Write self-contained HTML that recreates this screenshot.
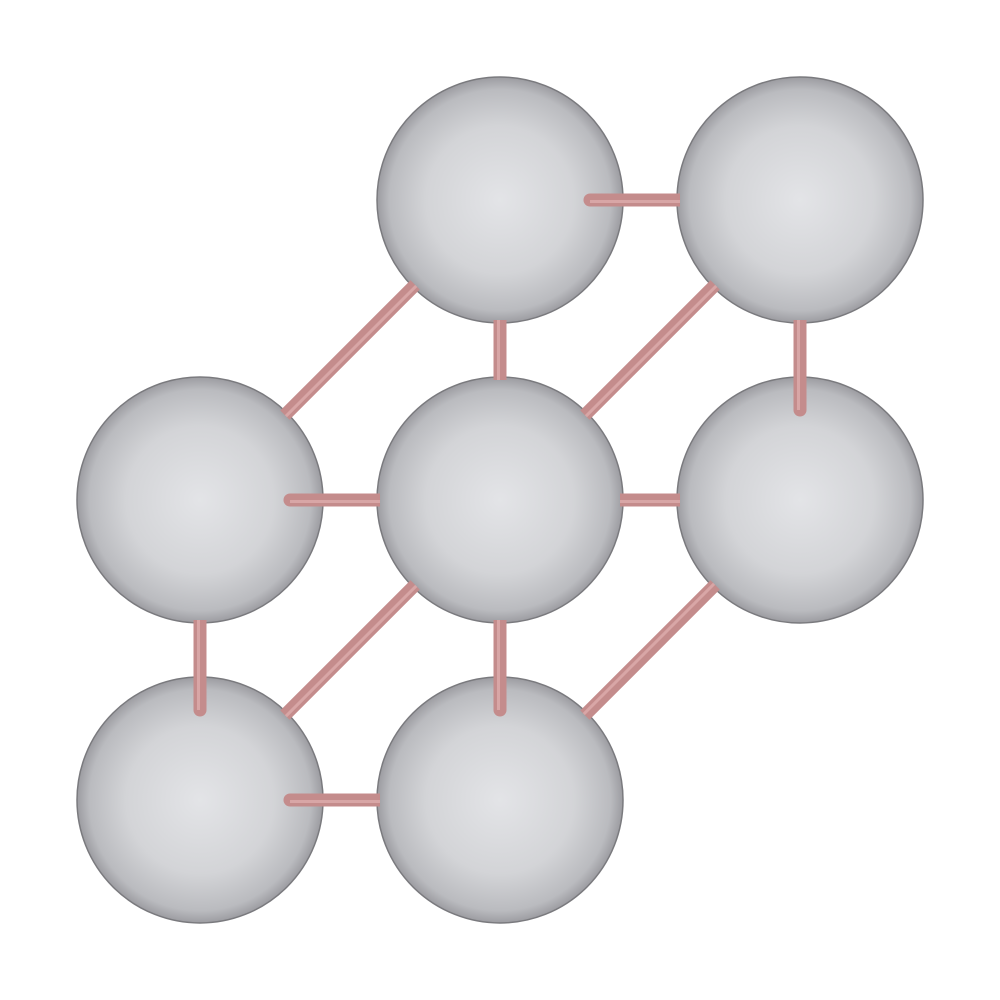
<!DOCTYPE html>
<html>
<head>
<meta charset="utf-8">
<style>
html,body{margin:0;padding:0;background:#fff;width:1000px;height:1000px;overflow:hidden;}
svg{display:block;}
</style>
</head>
<body>
<svg id="mol" width="1000" height="1000" viewBox="0 0 1000 1000" xmlns="http://www.w3.org/2000/svg">
<defs>
<radialGradient id="sph" cx="50%" cy="50%" r="50%">
<stop offset="0" stop-color="#e3e4e7"/>
<stop offset="0.6" stop-color="#d3d4d7"/>
<stop offset="0.9" stop-color="#babbbf"/>
<stop offset="1" stop-color="#9c9ca1"/>
</radialGradient>
</defs>
</svg>
<script>
// atom centres (grid positions)
const atomX = [1, 2, 0, 1, 2, 0, 1];
const atomY = [0, 0, 1, 1, 1, 2, 2];
// bonds: pairs of atom indices, and which end is in front ('a','b','')
const bondA = [0, 0, 1, 2, 3, 2, 3, 4, 2, 3, 5, 5];
const bondB = [1, 3, 4, 0, 1, 3, 4, 6, 5, 6, 6, 3];
const bondFront = ['a', '', 'b', '', '', 'a', '', '', 'b', 'b', 'a', ''];

const R = 123, CAP = 90, BW = 13;
const sx = v => 200 + v * 300;
const sy = v => 200 + v * 300;
const svg = document.getElementById('mol');
const NS = 'http://www.w3.org/2000/svg';

for (let i = 0; i < atomX.length; i++) {
  const c = document.createElementNS(NS, 'circle');
  
  
  c.setAttribute('cx', sx(atomX[i]));
  c.setAttribute('cy', sy(atomY[i]));
  c.setAttribute('r', R);
  c.setAttribute('fill', 'url(#sph)');
  c.setAttribute('stroke', '#7a7a7e');
  c.setAttribute('stroke-width', '1.5');
  svg.appendChild(c);
}

for (let k = 0; k < bondA.length; k++) {
  const ax = sx(atomX[bondA[k]]), ay = sy(atomY[bondA[k]]);
  const bx = sx(atomX[bondB[k]]), by = sy(atomY[bondB[k]]);
  const L = Math.hypot(bx - ax, by - ay);
  const ux = (bx - ax) / L, uy = (by - ay) / L;
  const da = bondFront[k] === 'a' ? CAP : R - 3;
  const db = bondFront[k] === 'b' ? CAP : R - 3;
  const x1 = ax + ux * da, y1 = ay + uy * da;
  const x2 = bx - ux * db, y2 = by - uy * db;
  const line = document.createElementNS(NS, 'line');
  
  
  line.setAttribute('x1', x1); line.setAttribute('y1', y1);
  line.setAttribute('x2', x2); line.setAttribute('y2', y2);
  line.setAttribute('stroke', '#c48c8c');
  line.setAttribute('stroke-width', BW);
  svg.appendChild(line);
  if (bondFront[k]) {
    const fx = bondFront[k] === 'a' ? x1 : x2, fy = bondFront[k] === 'a' ? y1 : y2;
    const cap = document.createElementNS(NS, 'circle');
    
    
    cap.setAttribute('cx', fx); cap.setAttribute('cy', fy);
    cap.setAttribute('r', BW / 2);
    cap.setAttribute('fill', '#c48c8c');
    svg.appendChild(cap);
  }
  const hl = document.createElementNS(NS, 'line');
  
  
  hl.setAttribute('x1', x1 - uy * 1.5); hl.setAttribute('y1', y1 + ux * 1.5);
  hl.setAttribute('x2', x2 - uy * 1.5); hl.setAttribute('y2', y2 + ux * 1.5);
  hl.setAttribute('stroke', '#d8a6a6');
  hl.setAttribute('stroke-width', 3);
  svg.appendChild(hl);
}
</script>
</body>
</html>
